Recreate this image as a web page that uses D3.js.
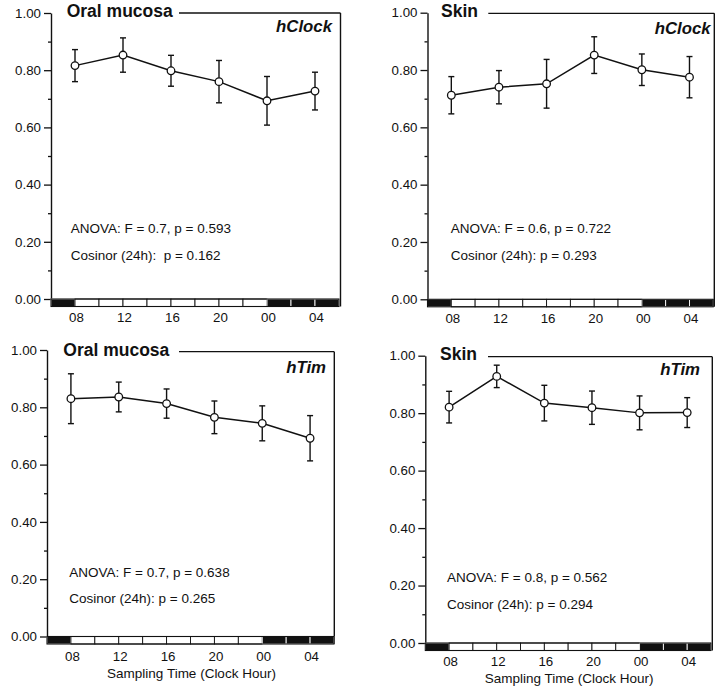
<!DOCTYPE html>
<html>
<head>
<meta charset="utf-8">
<script src="https://cdn.jsdelivr.net/npm/d3@7/dist/d3.min.js"></script>
<style>
  body { margin: 0; background: #fff; }
  svg { display: block; font-family: "Liberation Sans", Arial, Helvetica, sans-serif; }
</style>
</head>
<body>
<div class="chart"></div>
<script>
// sampling times (hours, 00 and 04 as 24 and 28 of the same cycle)
const hours = [8, 12, 16, 20, 24, 28];
const hourLabels = ['08', '12', '16', '20', '00', '04'];
const yMajor = [0, 0.2, 0.4, 0.6, 0.8, 1.0];
const yMinor = [0.1, 0.3, 0.5, 0.7, 0.9];

// light/dark bar: 2 h blocks from 06 to 06, lights on 08 - 24
const blockStarts = [6, 8, 10, 12, 14, 16, 18, 20, 22, 24, 26, 28];
const lightsOn = 8;
const lightsOff = 24;

// mean +/- error
const oralClockMean = [0.816, 0.853, 0.798, 0.760, 0.693, 0.727];
const oralClockErr  = [0.056, 0.060, 0.054, 0.074, 0.085, 0.066];
const skinClockMean = [0.712, 0.740, 0.752, 0.852, 0.801, 0.775];
const skinClockErr  = [0.065, 0.058, 0.085, 0.064, 0.055, 0.072];
const oralTimMean   = [0.830, 0.836, 0.813, 0.765, 0.744, 0.692];
const oralTimErr    = [0.087, 0.052, 0.051, 0.057, 0.061, 0.079];
const skinTimMean   = [0.821, 0.928, 0.835, 0.819, 0.801, 0.802];
const skinTimErr    = [0.055, 0.039, 0.062, 0.058, 0.059, 0.052];

const tissues = ['Oral mucosa', 'Skin', 'Oral mucosa', 'Skin'];
const genes = ['hClock', 'hClock', 'hTim', 'hTim'];
const anovaLabels = [
  'ANOVA: F = 0.7, p = 0.593',
  'ANOVA: F = 0.6, p = 0.722',
  'ANOVA: F = 0.7, p = 0.638',
  'ANOVA: F = 0.8, p = 0.562'
];
const cosinorLabels = [
  'Cosinor (24h):  p = 0.162',
  'Cosinor (24h): p = 0.293',
  'Cosinor (24h): p = 0.265',
  'Cosinor (24h): p = 0.294'
];
const xTitle = 'Sampling Time (Clock Hour)';

// where each panel sits on the page
const layout = [
  { x0: 51, x1: 339, yTop: 13, yZero: 299, topLine: 13, titleX: 66.7, titleY: 16.7, lineStart: 179,
    border: 340.5, geneX: 332, geneY: 31.7, statX: 70.7, statY: [233.3, 260], tickY: 321.7, xTitleY: null },
  { x0: 427.5, x1: 713.3, yTop: 12.7, yZero: 299.3, topLine: 13.3, titleX: 441, titleY: 16.7, lineStart: 488.3,
    border: 714.3, geneX: 710.7, geneY: 34, statX: 450.7, statY: [233.3, 260], tickY: 323.3, xTitleY: null },
  { x0: 47, x1: 334, yTop: 350, yZero: 636.5, topLine: 351.7, titleX: 63.3, titleY: 355.7, lineStart: 179,
    border: 334.3, geneX: 326, geneY: 373.3, statX: 69.3, statY: [576.7, 603], tickY: 660.7, xTitleY: 678 },
  { x0: 425.3, x1: 711, yTop: 355.7, yZero: 643, topLine: 356.7, titleX: 440, titleY: 360, lineStart: 488,
    border: 712.3, geneX: 700, geneY: 375, statX: 447, statY: [582, 609], tickY: 665.7, xTitleY: 683.3 }
];

const means = [oralClockMean, skinClockMean, oralTimMean, skinTimMean];
const errs = [oralClockErr, skinClockErr, oralTimErr, skinTimErr];

const width = 720;
const height = 691;
const barH = 7.5;

const svg = d3.select('.chart').append('svg')
  .attr('width', width)
  .attr('height', height);

svg.append('rect').attr('width', width).attr('height', height).attr('fill', '#fff');

layout.forEach((p, i) => {
  const g = svg.append('g');
  const x = d3.scaleLinear().domain([6, 30]).range([p.x0, p.x1]);
  const y = d3.scaleLinear().domain([0, 1]).range([p.yZero, p.yTop]);

  // y axis, major and minor ticks
  const yAxis = g.append('g')
    .attr('transform', `translate(${p.x0},0)`)
    .call(d3.axisLeft(y).tickValues(yMajor).tickFormat(d3.format('.2f'))
      .tickSize(7).tickSizeOuter(0).tickPadding(3));
  yAxis.select('.domain').attr('stroke', '#111').attr('stroke-width', 1.4);
  yAxis.selectAll('.tick line').attr('stroke', '#111').attr('stroke-width', 1.3);
  yAxis.selectAll('.tick text').attr('font-size', 13.3).attr('fill', '#111');
  yAxis.attr('font-family', null);

  const yMinorAxis = g.append('g')
    .attr('transform', `translate(${p.x0},0)`)
    .call(d3.axisLeft(y).tickValues(yMinor).tickFormat('').tickSize(3).tickSizeOuter(0));
  yMinorAxis.select('.domain').remove();
  yMinorAxis.selectAll('.tick line').attr('stroke', '#111').attr('stroke-width', 1.3);

  // frame: top line after the title, right side
  g.append('line')
    .attr('x1', p.lineStart).attr('x2', p.border)
    .attr('y1', p.topLine).attr('y2', p.topLine)
    .attr('stroke', '#111').attr('stroke-width', 1.3);
  g.append('line')
    .attr('x1', p.border).attr('x2', p.border)
    .attr('y1', p.topLine).attr('y2', p.yZero + barH)
    .attr('stroke', '#111').attr('stroke-width', 1.4);

  // light/dark bar
  const bar = g.append('g');
  bar.selectAll('rect.block').data(blockStarts).enter().append('rect')
    .attr('class', 'block')
    .attr('x', (d) => x(d))
    .attr('y', p.yZero)
    .attr('width', (d) => x(d + 2) - x(d))
    .attr('height', barH)
    .attr('fill', (d) => (d >= lightsOn && d < lightsOff) ? '#fff' : '#111')
    .attr('stroke', (d) => (d >= lightsOn && d < lightsOff) ? '#111' : '#fff')
    .attr('stroke-width', 0.9);
  bar.append('rect')
    .attr('x', x(6)).attr('y', p.yZero)
    .attr('width', x(30) - x(6)).attr('height', barH)
    .attr('fill', 'none').attr('stroke', '#111').attr('stroke-width', 1.1);

  // hour labels
  const xAxis = g.append('g')
    .attr('transform', `translate(0,${p.yZero})`)
    .call(d3.axisBottom(x).tickValues(hours).tickFormat((d, k) => hourLabels[k])
      .tickSize(0).tickPadding(p.tickY - p.yZero - 9.4));
  xAxis.select('.domain').remove();
  xAxis.selectAll('.tick text').attr('font-size', 13.3).attr('fill', '#111').attr('dx', 1);
  xAxis.attr('font-family', null);

  if (p.xTitleY) {
    g.append('text')
      .attr('x', (p.x0 + p.x1) / 2 + 1)
      .attr('y', p.xTitleY)
      .attr('text-anchor', 'middle')
      .attr('font-size', 13.5)
      .attr('fill', '#111')
      .text(xTitle);
  }

  // titles
  g.append('text')
    .attr('x', p.titleX).attr('y', p.titleY)
    .attr('font-size', 17.5).attr('font-weight', 'bold').attr('fill', '#111')
    .text(tissues[i]);
  g.append('text')
    .attr('x', p.geneX).attr('y', p.geneY)
    .attr('text-anchor', 'end')
    .attr('font-size', 16.8).attr('font-weight', 'bold').attr('font-style', 'italic')
    .attr('fill', '#111')
    .text(genes[i]);

  // statistics
  [anovaLabels[i], cosinorLabels[i]].forEach((t, k) => {
    g.append('text')
      .attr('x', p.statX).attr('y', p.statY[k])
      .attr('font-size', 13.5).attr('fill', '#111')
      .attr('xml:space', 'preserve')
      .style('white-space', 'pre')
      .text(t);
  });

  // data
  const data = hours.map((h, k) => ({ h: h, m: means[i][k], e: errs[i][k] }));

  const eb = g.append('g').selectAll('g.err').data(data).enter().append('g').attr('class', 'err');
  eb.append('line')
    .attr('x1', (d) => x(d.h)).attr('x2', (d) => x(d.h))
    .attr('y1', (d) => y(d.m + d.e)).attr('y2', (d) => y(d.m - d.e))
    .attr('stroke', '#111').attr('stroke-width', 1.4);
  [1, -1].forEach((s) => {
    eb.append('line')
      .attr('x1', (d) => x(d.h) - 3).attr('x2', (d) => x(d.h) + 3)
      .attr('y1', (d) => y(d.m + s * d.e)).attr('y2', (d) => y(d.m + s * d.e))
      .attr('stroke', '#111').attr('stroke-width', 1.4);
  });

  const line = d3.line().x((d) => x(d.h)).y((d) => y(d.m));
  g.append('path').datum(data)
    .attr('d', line)
    .attr('fill', 'none')
    .attr('stroke', '#111')
    .attr('stroke-width', 1.5);

  g.append('g').selectAll('circle').data(data).enter().append('circle')
    .attr('cx', (d) => x(d.h))
    .attr('cy', (d) => y(d.m))
    .attr('r', 3.8)
    .attr('fill', '#fff')
    .attr('stroke', '#111')
    .attr('stroke-width', 1.3);
});
</script>
</body>
</html>
